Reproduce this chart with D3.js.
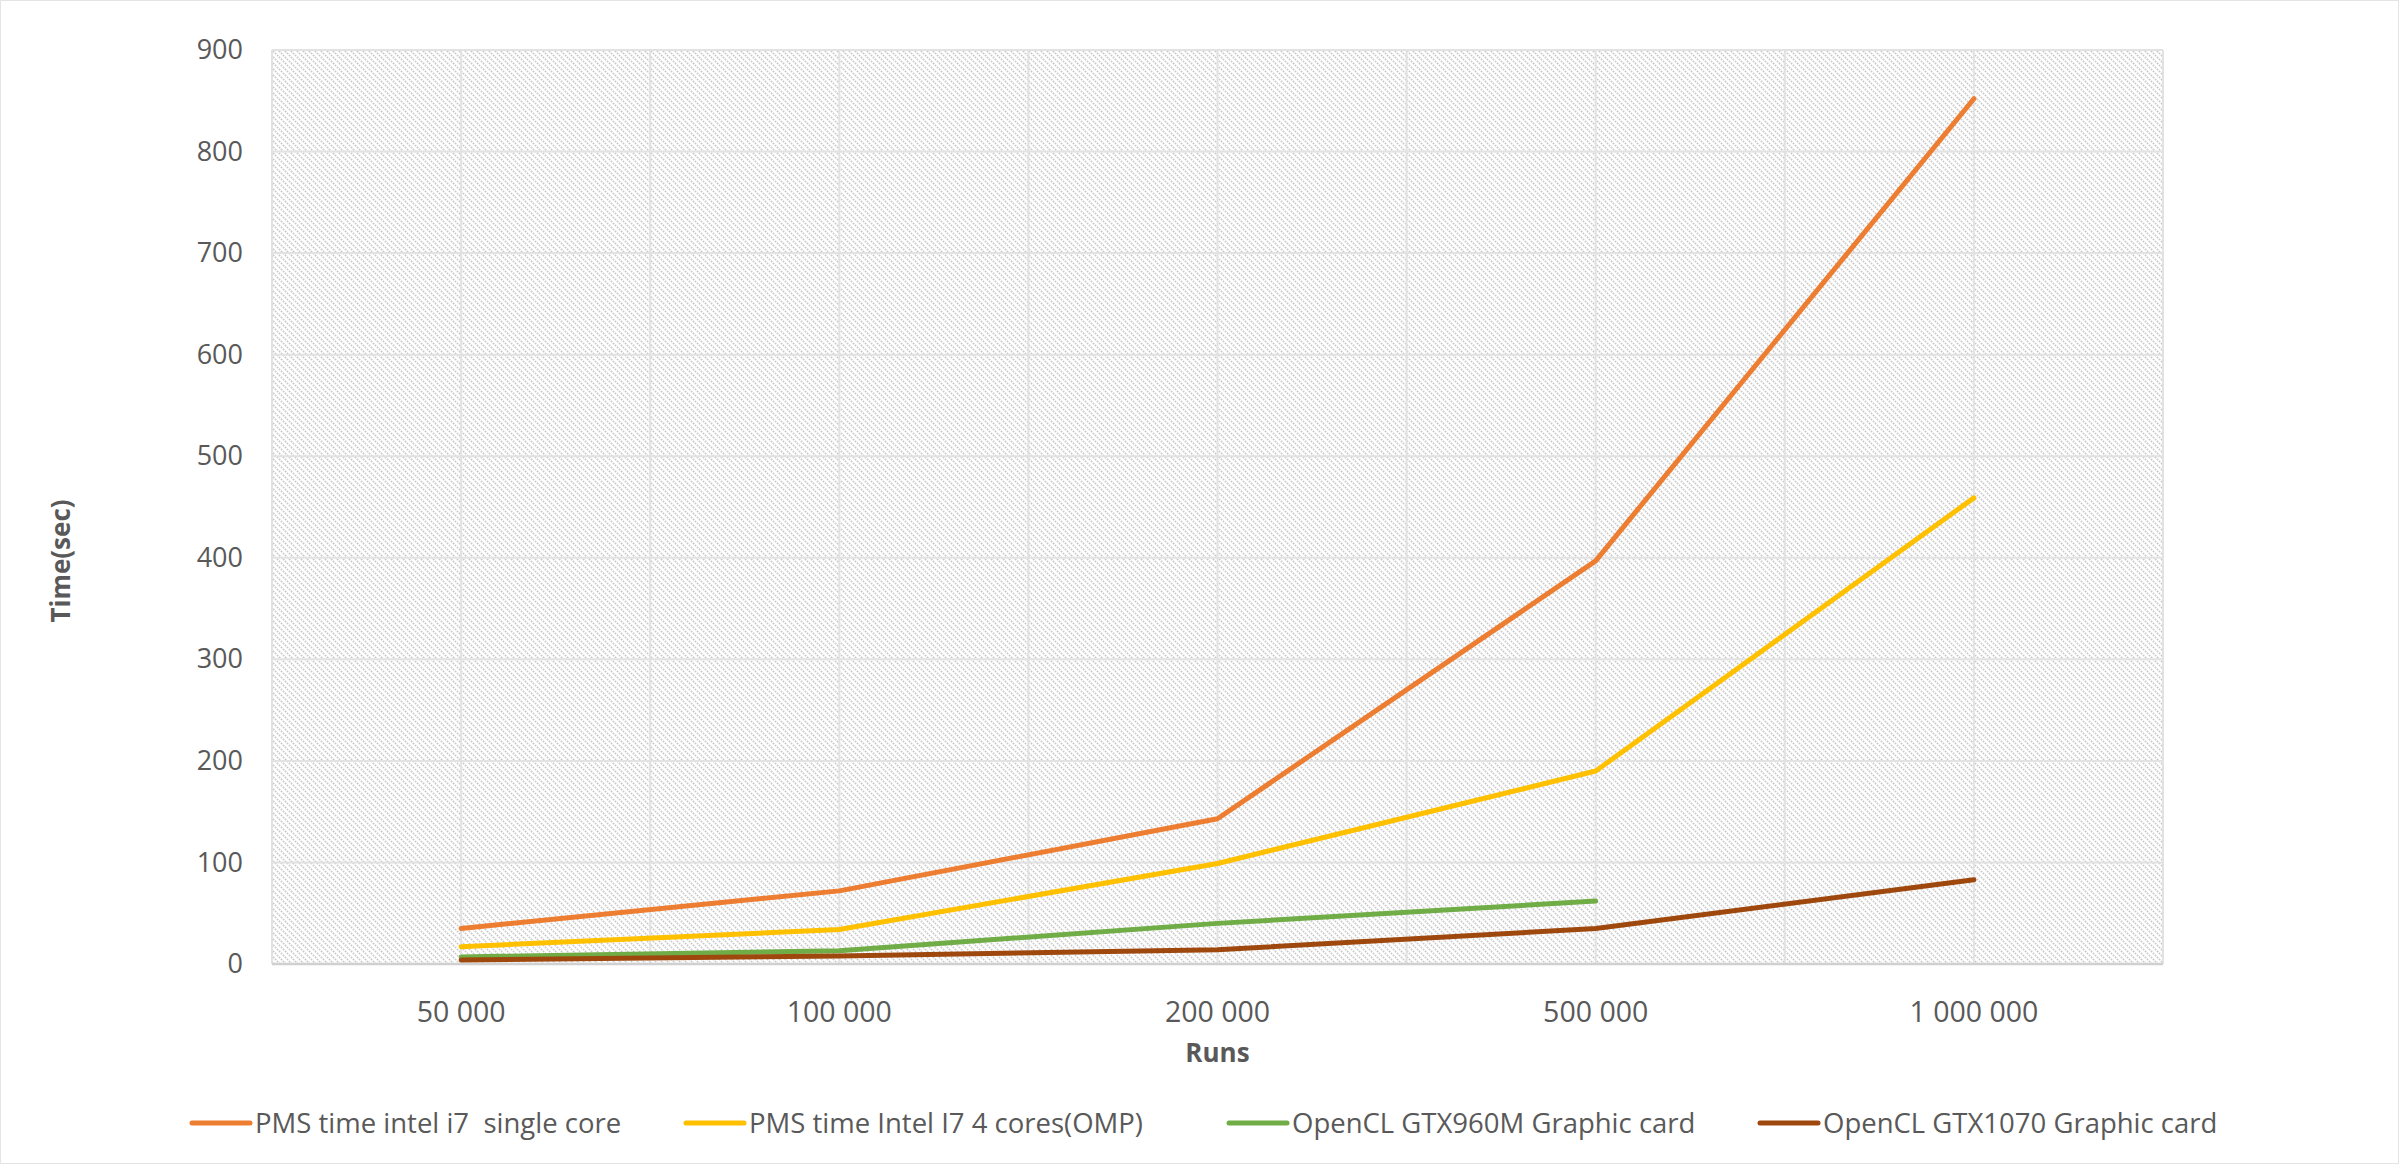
<!DOCTYPE html>
<html>
<head>
<meta charset="utf-8">
<script src="https://cdn.jsdelivr.net/npm/d3@7"></script>
<style>
  html, body { margin: 0; padding: 0; background: #fff; }
  svg { display: block; font-family: "Open Sans", "Noto Sans", sans-serif; }
  text { white-space: pre; }
</style>
</head>
<body>
<svg id="chart" width="2399" height="1164"></svg>
<script>
// Benchmark runs and timings (seconds)
const runs = ["50 000", "100 000", "200 000", "500 000", "1 000 000"];
const seriesNames = [
  "PMS time intel i7  single core",
  "PMS time Intel I7 4 cores(OMP)",
  "OpenCL GTX960M Graphic card",
  "OpenCL GTX1070 Graphic card"
];
const singleCore = [35, 72, 143, 397, 852];
const fourCores  = [17, 34, 99, 190, 459];
const gtx960m    = [7, 13, 40, 62, null];
const gtx1070    = [4, 8, 14, 35, 83];
const seriesColors = ["#ED7D31", "#FFC000", "#70AD47", "#9E480E"];
const yTicks = [0, 100, 200, 300, 400, 500, 600, 700, 800, 900];

const seriesValues = [singleCore, fourCores, gtx960m, gtx1070];

const W = 2399, H = 1164;
const plot = { left: 272, right: 2163, top: 50, bottom: 964 };
const textColor = "#595959";

const svg = d3.select("#chart");

// outer chart border
svg.append("rect")
  .attr("x", 0.5).attr("y", 0.5)
  .attr("width", W - 1).attr("height", H - 1)
  .attr("fill", "#fff").attr("stroke", "#e4e4e4");

// diagonal dotted hatch for the plot area
const defs = svg.append("defs");
const pat = defs.append("pattern")
  .attr("id", "hatch")
  .attr("patternUnits", "userSpaceOnUse")
  .attr("width", 6).attr("height", 6);
pat.append("rect").attr("width", 6).attr("height", 6).attr("fill", "#ffffff");
pat.append("path")
  .attr("d", "M-1,-1 L7,7 M-4,2 L1,7 M2,-4 L7,1")
  .attr("stroke", "#c9c9c9")
  .attr("stroke-width", 1.7)
  .attr("stroke-dasharray", "1.7,1.1");

const x = d3.scaleBand().domain(runs).range([plot.left, plot.right]).padding(0);
const y = d3.scaleLinear().domain([0, 900]).range([plot.bottom, plot.top]);

svg.append("rect")
  .attr("x", plot.left).attr("y", plot.top)
  .attr("width", plot.right - plot.left).attr("height", plot.bottom - plot.top)
  .attr("fill", "url(#hatch)");

// horizontal gridlines
svg.append("g")
  .selectAll("line")
  .data(yTicks.filter(d => d > 0))
  .join("line")
  .attr("x1", plot.left).attr("x2", plot.right)
  .attr("y1", d => y(d)).attr("y2", d => y(d))
  .attr("stroke", "#e2e2e2").attr("stroke-width", 2);

// vertical gridlines at category boundaries and centres
const vLines = [];
runs.forEach((r, i) => {
  vLines.push(x(r));
  vLines.push(x(r) + x.bandwidth() / 2);
});
vLines.push(plot.right);
svg.append("g")
  .selectAll("line")
  .data(vLines)
  .join("line")
  .attr("x1", d => d).attr("x2", d => d)
  .attr("y1", plot.top).attr("y2", plot.bottom)
  .attr("stroke", "#e2e2e2").attr("stroke-width", 2);

// x axis baseline
svg.append("line")
  .attr("x1", plot.left).attr("x2", plot.right)
  .attr("y1", plot.bottom).attr("y2", plot.bottom)
  .attr("stroke", "#d0d0d0").attr("stroke-width", 2.5);

// y axis labels
const yAxis = d3.axisLeft(y).tickValues(yTicks).tickSize(0).tickPadding(0).tickFormat(d3.format("d"));
const yg = svg.append("g").attr("transform", `translate(${243},0)`).call(yAxis);
yg.select(".domain").remove();
yg.selectAll("text")
  .attr("fill", textColor)
  .style("font-size", "27px")
  .style("font-family", "'Open Sans', sans-serif");

// x axis labels
const xAxis = d3.axisBottom(x).tickSize(0).tickPadding(0);
const xg = svg.append("g").attr("transform", `translate(0,${1002})`).call(xAxis);
xg.select(".domain").remove();
xg.selectAll("text")
  .attr("fill", textColor)
  .style("font-size", "28.5px")
  .style("font-family", "'Open Sans', sans-serif");

// axis titles
svg.append("text")
  .attr("x", (plot.left + plot.right) / 2).attr("y", 1062)
  .attr("text-anchor", "middle")
  .attr("fill", textColor)
  .style("font-size", "26px").style("font-weight", "bold")
  .text("Runs");

svg.append("text")
  .attr("transform", `translate(${70},${(plot.top + plot.bottom) / 2 + 54}) rotate(-90)`)
  .attr("text-anchor", "middle")
  .attr("fill", textColor)
  .style("font-size", "26px").style("font-weight", "bold")
  .text("Time(sec)");

// series lines
const line = d3.line()
  .defined(d => d.v !== null)
  .x(d => x(d.run) + x.bandwidth() / 2)
  .y(d => y(d.v));

svg.append("g")
  .selectAll("path")
  .data(seriesValues.map((vals, i) => ({
    color: seriesColors[i],
    pts: vals.map((v, j) => ({ run: runs[j], v }))
  })))
  .join("path")
  .attr("d", d => line(d.pts))
  .attr("fill", "none")
  .attr("stroke", d => d.color)
  .attr("stroke-width", 5)
  .attr("stroke-linejoin", "round")
  .attr("stroke-linecap", "round");

// legend
const legendX = [192, 686, 1229, 1760];
const legendY = 1123;
const lg = svg.append("g")
  .selectAll("g")
  .data(seriesNames.map((n, i) => ({ name: n, color: seriesColors[i], x: legendX[i] })))
  .join("g")
  .attr("transform", d => `translate(${d.x},${legendY})`);
lg.append("line")
  .attr("x1", 0).attr("x2", 58).attr("y1", 0).attr("y2", 0)
  .attr("stroke", d => d.color).attr("stroke-width", 5)
  .attr("stroke-linecap", "round");
lg.append("text")
  .attr("x", 63).attr("y", 0).attr("dy", "0.35em")
  .attr("fill", textColor)
  .style("font-size", "27.5px")
  .text(d => d.name);
</script>
</body>
</html>
